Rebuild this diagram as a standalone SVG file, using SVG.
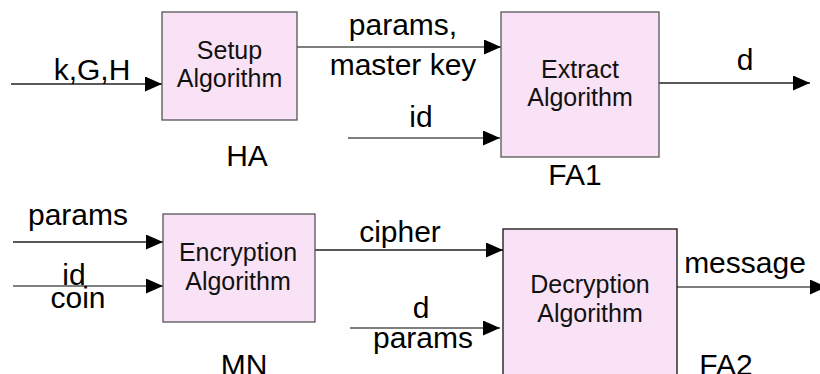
<svg xmlns="http://www.w3.org/2000/svg" width="820" height="374" viewBox="0 0 820 374">
  <style>
    .box { fill: #f9e2f5; stroke: #555555; stroke-width: 1.3; }
    .box.dark { stroke: #111111; }
    .wire { fill: none; stroke: #222222; stroke-width: 1.3; }
    .wire.grey { stroke: #555555; }
    .lbl { font-family: "Liberation Sans", Arial, sans-serif; font-size: 30px; fill: #000000; text-anchor: middle; }
    .inner { font-family: "Liberation Sans", Arial, sans-serif; font-size: 25px; fill: #111111; text-anchor: middle; }
  </style>
  <defs>
    <marker id="head" markerUnits="userSpaceOnUse" markerWidth="17" markerHeight="15" refX="17" refY="7.5" orient="auto">
      <path d="M0,0 L17,7.5 L0,15 Z" fill="#000000"/>
    </marker>
  </defs>

  <!-- connectors and their labels -->
  <g id="connectors">
    <line class="wire" x1="11" y1="84" x2="162" y2="84" marker-end="url(#head)"/>
    <text class="lbl" x="92" y="80">k,G,H</text>

    <line class="wire grey" x1="297" y1="47" x2="501" y2="47" marker-end="url(#head)"/>
    <text class="lbl" x="403" y="35">params,</text>
    <text class="lbl" x="403" y="75">master key</text>

    <line class="wire grey" x1="348" y1="138" x2="500" y2="138" marker-end="url(#head)"/>
    <text class="lbl" x="421" y="127">id</text>

    <line class="wire" x1="659" y1="83" x2="810" y2="83" marker-end="url(#head)"/>
    <text class="lbl" x="745" y="70">d</text>

    <line class="wire" x1="13" y1="242" x2="163" y2="242" marker-end="url(#head)"/>
    <text class="lbl" x="78" y="225">params</text>

    <line class="wire grey" x1="13" y1="286" x2="163" y2="286" marker-end="url(#head)"/>
    <text class="lbl" x="74" y="285">id</text>
    <text class="lbl" x="78" y="308">coin</text>

    <line class="wire" x1="315" y1="250" x2="503" y2="250" marker-end="url(#head)"/>
    <text class="lbl" x="400" y="242">cipher</text>

    <line class="wire grey" x1="350" y1="328" x2="500" y2="328" marker-end="url(#head)"/>
    <text class="lbl" x="421" y="318">d</text>
    <text class="lbl" x="423" y="348">params</text>

    <line class="wire grey" x1="677" y1="287" x2="827" y2="287" marker-end="url(#head)"/>
    <text class="lbl" x="745" y="273">message</text>
  </g>

  <g id="setup">
    <rect class="box" x="162" y="12" width="135" height="108"/>
    <text class="inner" x="229.5" y="59">Setup</text>
    <text class="inner" x="229.5" y="87">Algorithm</text>
    <text class="lbl" x="247" y="166">HA</text>
  </g>

  <g id="extract">
    <rect class="box" x="501" y="12" width="158" height="145"/>
    <text class="inner" x="580" y="78">Extract</text>
    <text class="inner" x="580" y="106">Algorithm</text>
    <text class="lbl" x="575" y="185">FA1</text>
  </g>

  <g id="encryption">
    <rect class="box" x="163" y="214" width="152" height="108"/>
    <text class="inner" x="238" y="261">Encryption</text>
    <text class="inner" x="238" y="290">Algorithm</text>
    <text class="lbl" x="244" y="375">MN</text>
  </g>

  <g id="decryption">
    <rect class="box dark" x="503" y="229" width="174" height="160"/>
    <text class="inner" x="590" y="293">Decryption</text>
    <text class="inner" x="590" y="322">Algorithm</text>
    <text class="lbl" x="726" y="375">FA2</text>
  </g>
</svg>
